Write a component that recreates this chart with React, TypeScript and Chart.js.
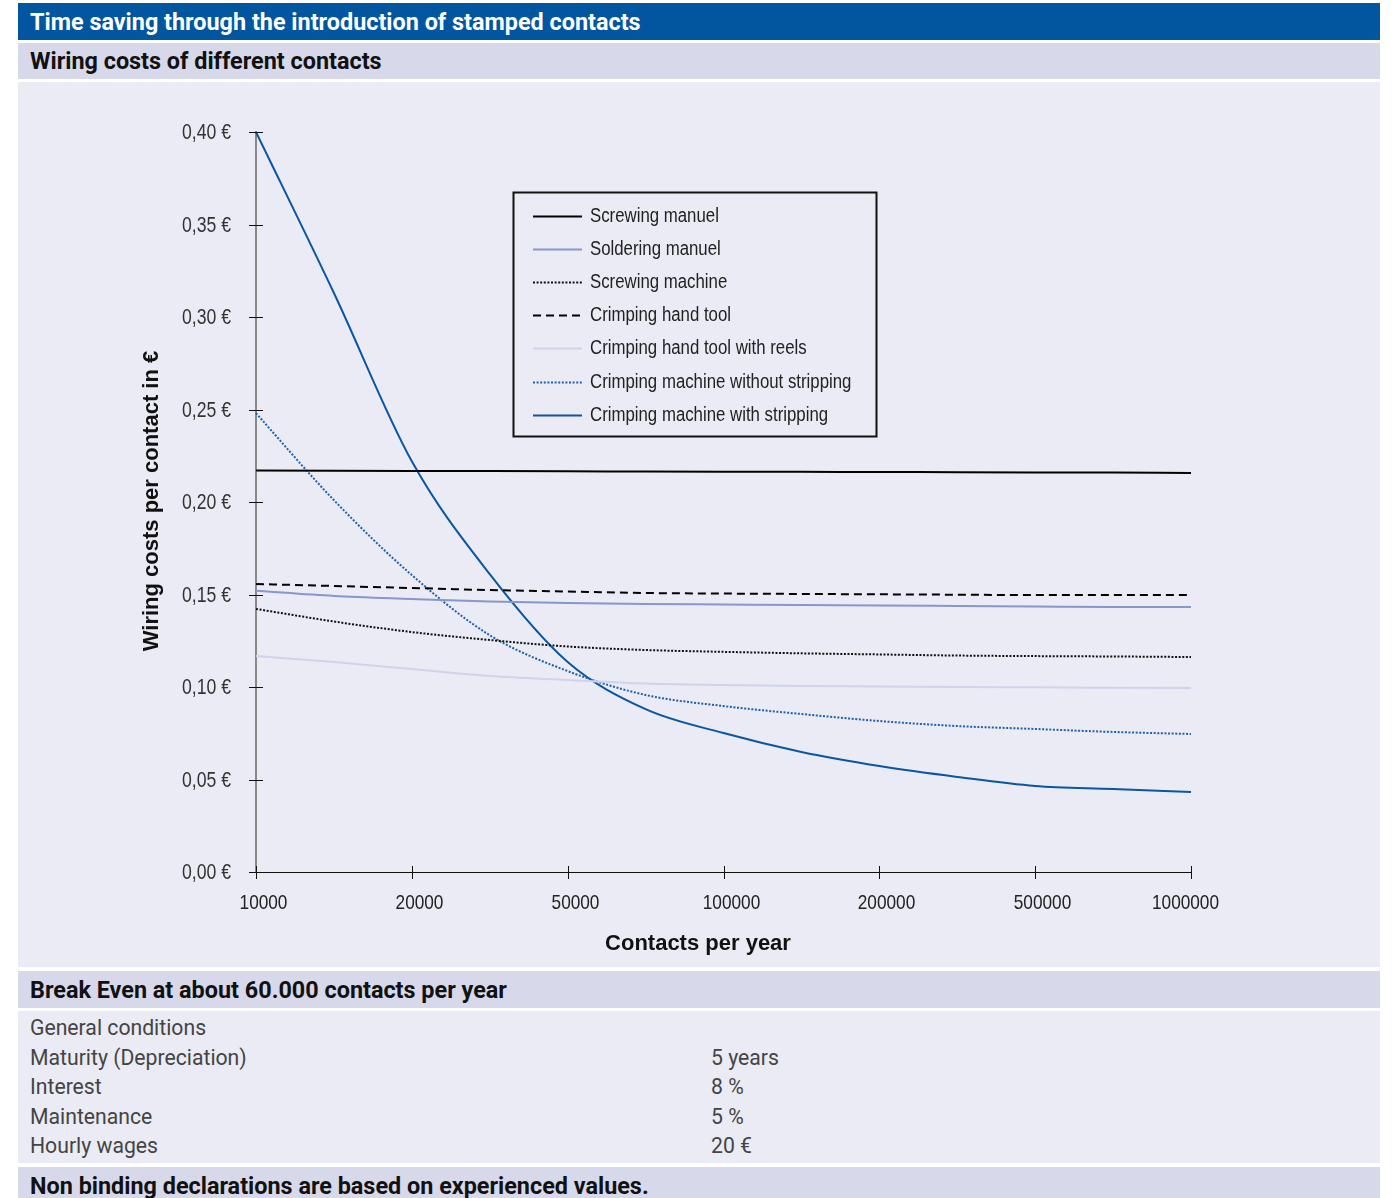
import React, { useEffect, useRef } from 'react';
import { Chart, registerables } from 'chart.js';

Chart.register(...registerables);

// ---- data ----
const contacts = ['10000', '15000', '20000', '35000', '50000', '75000', '100000', '150000', '200000', '350000', '500000', '750000', '1000000'];
const shownTicks = ['10000', '20000', '50000', '100000', '200000', '500000', '1000000'];
const yTickValues = [0, 0.05, 0.1, 0.15, 0.2, 0.25, 0.3, 0.35, 0.4];

const screwingManuel = [0.2170, 0.2169, 0.2168, 0.2167, 0.2166, 0.2165, 0.2164, 0.2163, 0.2162, 0.2161, 0.2160, 0.2159, 0.2157];
const solderingManuel = [0.1520, 0.1492, 0.1476, 0.1462, 0.1454, 0.1449, 0.1446, 0.1443, 0.1441, 0.1438, 0.1435, 0.1432, 0.1432];
const screwingMachine = [0.1422, 0.1354, 0.1297, 0.1254, 0.1219, 0.1200, 0.1190, 0.1182, 0.1176, 0.1170, 0.1167, 0.1165, 0.1162];
const crimpingHandTool = [0.1557, 0.1546, 0.1535, 0.1524, 0.1516, 0.1508, 0.1505, 0.1503, 0.1501, 0.1499, 0.1497, 0.1497, 0.1497];
const crimpingHandToolReels = [0.1168, 0.1135, 0.1097, 0.1059, 0.1038, 0.1019, 0.1011, 0.1005, 0.1003, 0.1000, 0.0998, 0.0996, 0.0995];
const crimpingMachineWithout = [0.248, 0.201, 0.1605, 0.128, 0.1086, 0.0957, 0.0897, 0.0854, 0.0816, 0.0789, 0.0773, 0.0757, 0.0746];
const crimpingMachineWith = [0.400, 0.313, 0.222, 0.161, 0.1135, 0.088, 0.0751, 0.0649, 0.0573, 0.0514, 0.0465, 0.0449, 0.0432];

const seriesLabels = [
  'Screwing manuel',
  'Soldering manuel',
  'Screwing machine',
  'Crimping hand tool',
  'Crimping hand tool with reels',
  'Crimping machine without stripping',
  'Crimping machine with stripping',
];

const conditionLabels = ['General conditions', 'Maturity (Depreciation)', 'Interest', 'Maintenance', 'Hourly wages'];
const conditionValues = ['', '5 years', '8 %', '5 %', '20 €'];

const SANS = '"Liberation Sans", Arial, sans-serif';
const HEAD = 'Roboto, "Noto Sans", sans-serif';

const BLUE_HEAD = '#02559f';
const LAV = '#d7d9eb';
const LIGHT = '#ebebf5';

const fmtEuro = (v: number) => v.toFixed(2).replace('.', ',') + ' €';

function narrowText(ctx: CanvasRenderingContext2D, text: string, x: number, y: number, align: CanvasTextAlign, sx = 0.82) {
  ctx.save();
  ctx.translate(x, y);
  ctx.scale(sx, 1);
  ctx.textAlign = align;
  ctx.textBaseline = 'middle';
  ctx.fillText(text, 0, 0);
  ctx.restore();
}

const axisPlugin = {
  id: 'axisDecor',
  afterDraw(chart: any) {
    const ctx = chart.ctx;
    const xs = chart.scales.x;
    const ys = chart.scales.y;
    const area = chart.chartArea;
    ctx.save();
    ctx.strokeStyle = '#111';
    ctx.lineWidth = 1;
    ctx.beginPath();
    ctx.moveTo(area.left - 7, Math.round(area.bottom) + 0.5);
    ctx.lineTo(area.right, Math.round(area.bottom) + 0.5);
    ctx.stroke();
    ctx.fillStyle = '#333';
    ctx.font = `21.5px ${SANS}`;
    yTickValues.forEach((v) => {
      const py = Math.round(ys.getPixelForValue(v)) + 0.5;
      ctx.beginPath();
      ctx.moveTo(area.left - 7, py);
      ctx.lineTo(area.left + 7, py);
      ctx.stroke();
      narrowText(ctx, fmtEuro(v), area.left - 25, py + 1, 'right');
    });
    ctx.fillStyle = '#222';
    ctx.font = `21px ${SANS}`;
    const last = contacts.length - 1;
    contacts.forEach((c, i) => {
      if (!shownTicks.includes(c)) return;
      const px = Math.round(xs.getPixelForValue(i)) + 0.5;
      ctx.beginPath();
      ctx.moveTo(px, area.bottom - 6);
      ctx.lineTo(px, area.bottom + 7);
      ctx.stroke();
      narrowText(ctx, c, px + (i === last ? -6 : 7), area.bottom + 31, 'center');
    });
    ctx.restore();
  },
};

const legendPlugin = {
  id: 'boxLegend',
  afterDraw(chart: any) {
    const ctx = chart.ctx;
    const area = chart.chartArea;
    const bx = area.left + 257;
    const by = area.top + 60;
    const bw = 363;
    const bh = 244;
    ctx.save();
    ctx.strokeStyle = '#111';
    ctx.lineWidth = 2;
    ctx.setLineDash([]);
    ctx.strokeRect(bx + 0.5, by + 0.5, bw, bh);
    ctx.font = `20px ${SANS}`;
    ctx.fillStyle = '#222';
    chart.data.datasets.forEach((ds: any, i: number) => {
      const ry = Math.round(by + 24 + i * 33.1) + 0.5;
      ctx.save();
      ctx.strokeStyle = ds.borderColor;
      ctx.lineWidth = ds.borderWidth;
      ctx.setLineDash(ds.borderDash || []);
      ctx.beginPath();
      ctx.moveTo(bx + 20, ry);
      ctx.lineTo(bx + 69, ry);
      ctx.stroke();
      ctx.restore();
      narrowText(ctx, ds.label, bx + 77, ry, 'left', 0.84);
    });
    ctx.restore();
  },
};

function WiringChart() {
  const ref = useRef<HTMLCanvasElement | null>(null);
  useEffect(() => {
    if (!ref.current) return;
    const mk = (i: number, data: number[], color: string, dash: number[] = [], width = 2) => ({
      label: seriesLabels[i],
      data,
      borderColor: color,
      backgroundColor: color,
      borderWidth: width,
      borderDash: dash,
      borderCapStyle: 'butt',
      pointRadius: 0,
      fill: false,
      cubicInterpolationMode: 'monotone',
    });
    const chart = new Chart(ref.current, {
      type: 'line',
      data: {
        labels: contacts,
        datasets: [
          mk(0, screwingManuel, '#000000'),
          mk(1, solderingManuel, '#8797c9'),
          mk(2, screwingMachine, '#111111', [2, 1.6]),
          mk(3, crimpingHandTool, '#000000', [8, 5]),
          mk(4, crimpingHandToolReels, '#cfd4ea'),
          mk(5, crimpingMachineWithout, '#1c62ad', [2, 1.6]),
          mk(6, crimpingMachineWith, '#0b56a1'),
        ] as any,
      },
      options: {
        responsive: false,
        animation: false,
        events: [],
        layout: { padding: { top: 50, right: 189, left: 0, bottom: 0 } },
        plugins: { legend: { display: false }, tooltip: { enabled: false } },
        scales: {
          x: {
            type: 'category',
            offset: false,
            grid: { display: false },
            border: { display: false },
            ticks: { display: false },
            afterFit: (s: any) => { s.height = 95; },
          },
          y: {
            min: 0,
            max: 0.4,
            grid: { display: false },
            border: { display: true, color: '#8a8a8a', width: 2 },
            ticks: { display: false, stepSize: 0.05 },
            afterFit: (s: any) => { s.width = 238; },
          },
        },
      } as any,
      plugins: [axisPlugin, legendPlugin],
    });
    return () => chart.destroy();
  }, []);
  return <canvas ref={ref} width={1362} height={885} style={{ position: 'absolute', left: 0, top: 0, width: 1362, height: 885 }} />;
}

const bar = (top: number, height: number, bg: string): React.CSSProperties => ({
  position: 'absolute',
  left: 18,
  width: 1362,
  top,
  height,
  background: bg,
  display: 'flex',
  alignItems: 'center',
  boxSizing: 'border-box',
  paddingLeft: 12,
  whiteSpace: 'nowrap',
});

const HEAD_FONT = `700 23.4px ${HEAD}`;

export default function App() {
  return (
    <div style={{ position: 'absolute', left: 0, top: 0, width: 1394, height: 1198, overflow: 'hidden', background: '#fff' }}>
      <div style={{ ...bar(3, 37, BLUE_HEAD), color: '#fff', font: HEAD_FONT }}>
        Time saving through the introduction of stamped contacts
      </div>
      <div style={{ ...bar(43, 36, LAV), color: '#111', font: HEAD_FONT }}>
        Wiring costs of different contacts
      </div>
      <div style={{ position: 'absolute', left: 18, top: 82, width: 1362, height: 885, background: LIGHT }}>
        <WiringChart />
        <div style={{ position: 'absolute', left: 380, width: 600, top: 848, height: 24, lineHeight: '24px', textAlign: 'center', font: `700 22px ${SANS}`, color: '#111' }}>
          Contacts per year
        </div>
        <div style={{ position: 'absolute', left: 132 - 200, top: 419 - 12, width: 400, height: 24, lineHeight: '24px', textAlign: 'center', transform: 'rotate(-90deg)', font: `700 22px ${SANS}`, color: '#111' }}>
          Wiring costs per contact in €
        </div>
      </div>
      <div style={{ ...bar(971, 37, LAV), color: '#111', font: HEAD_FONT }}>
        Break Even at about 60.000 contacts per year
      </div>
      <div style={{ position: 'absolute', left: 18, top: 1011, width: 1362, height: 152, background: LIGHT }}>
        {conditionLabels.map((l, i) => (
          <div key={i} style={{ position: 'absolute', top: 4 + i * 29.5, height: 29.5, lineHeight: '29.5px', left: 12, width: 1340, font: `400 21.2px ${HEAD}`, color: '#444', whiteSpace: 'nowrap' }}>
            <span style={{ position: 'absolute', left: 0 }}>{l}</span>
            <span style={{ position: 'absolute', left: 681 }}>{conditionValues[i]}</span>
          </div>
        ))}
      </div>
      <div style={{ ...bar(1167, 37, LAV), color: '#111', font: HEAD_FONT }}>
        Non binding declarations are based on experienced values.
      </div>
    </div>
  );
}
